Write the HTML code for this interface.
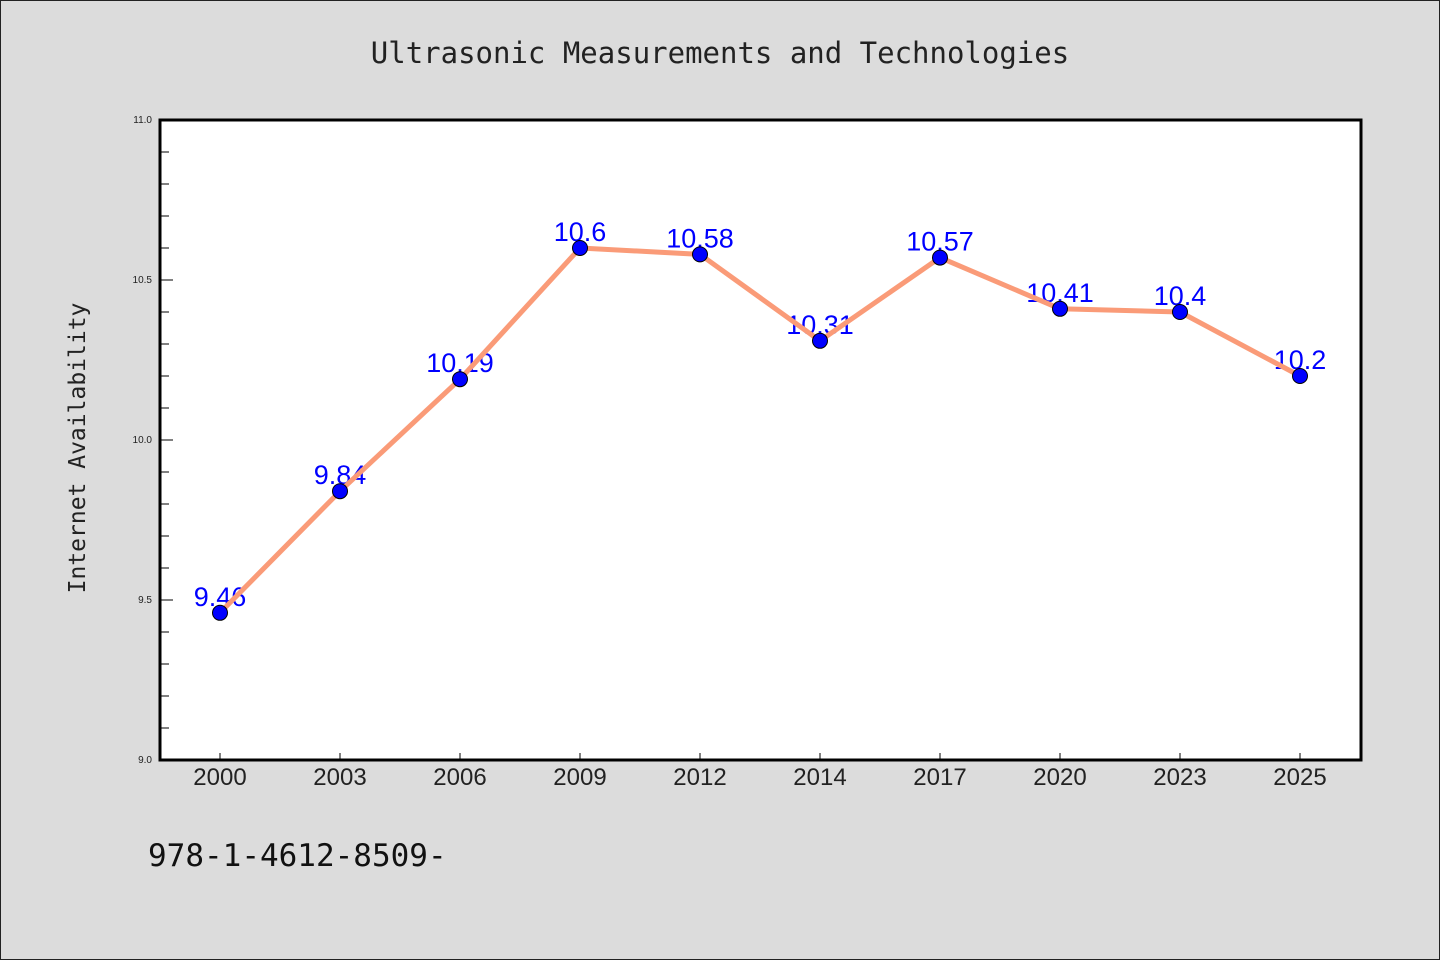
<!DOCTYPE html>
<html><head><meta charset="utf-8"><style>
body{margin:0;background:#dcdcdc;}
svg{display:block;font-family:"Liberation Sans","DejaVu Sans",sans-serif;}
</style></head><body>
<svg id="chart" width="1440" height="960" viewBox="0 0 1440 960">
<rect x="0.5" y="0.5" width="1439" height="959" fill="#dcdcdc" stroke="#222" stroke-width="1"/>
<text x="720" y="63" text-anchor="middle" font-family="DejaVu Sans Mono, monospace" font-size="29" fill="#222">Ultrasonic Measurements and Technologies</text>
<rect x="160" y="120" width="1201" height="640" fill="#fff"/>
<g id="yaxis"></g>
<g id="xaxis"></g>
<g id="series"></g>
<rect x="160" y="120" width="1201" height="640" fill="none" stroke="#000" stroke-width="3"/>
<text transform="translate(85,448) rotate(-90)" text-anchor="middle" font-family="DejaVu Sans Mono, monospace" font-size="23" fill="#222">Internet Availability</text>
<text x="148" y="866" font-family="DejaVu Sans Mono, monospace" font-size="31" fill="#111">978-1-4612-8509-</text>
</svg>
<script>
const categories=["2000","2003","2006","2009","2012","2014","2017","2020","2023","2025"];
const values=[9.46,9.84,10.19,10.6,10.58,10.31,10.57,10.41,10.4,10.2];
const valueLabels=["9.46","9.84","10.19","10.6","10.58","10.31","10.57","10.41","10.4","10.2"];
const yTickLabels=["9.0","9.5","10.0","10.5","11.0"];
const yMin=9.0,yMax=11.0;
const NS="http://www.w3.org/2000/svg";
function y(v){return 760-(v-yMin)/(yMax-yMin)*640;}
function x(i){return 220+i*120;}
function mk(tag,attrs,parent){const e=document.createElementNS(NS,tag);for(const k in attrs)e.setAttribute(k,attrs[k]);parent.appendChild(e);return e;}
const ya=document.getElementById('yaxis'),xa=document.getElementById('xaxis'),sg=document.getElementById('series');
for(let k=0;k<=20;k++){const v=yMin+k*0.1;const major=k%5===0;
 const t=mk('line',{x1:160,x2:major?173:169,y1:y(v),y2:y(v),stroke:'#000','stroke-width':1},ya);
 
 
}
yTickLabels.forEach(s=>{const t=mk('text',{x:152,y:y(parseFloat(s))+3,'text-anchor':'end','font-size':10,fill:'#222'},ya);t.textContent=s;
 
 
});
categories.forEach((c,i)=>{const t=mk('line',{x1:x(i),x2:x(i),y1:760,y2:753,stroke:'#000','stroke-width':1},xa);
 
 
 const l=mk('text',{x:x(i),y:785,'text-anchor':'middle','font-size':24,fill:'#222'},xa);l.textContent=c;
 
 
});
values.forEach((v,i)=>{const l=mk('text',{x:x(i),y:y(v)-7,'text-anchor':'middle','font-size':27,fill:'#0000ff'},sg);l.textContent=valueLabels[i];
 
 
});
const p=mk('polyline',{points:values.map((v,i)=>x(i)+','+y(v)).join(' '),fill:'none',stroke:'#fa9b78','stroke-width':5,'stroke-linejoin':'round'},sg);


values.forEach((v,i)=>{const c=mk('circle',{cx:x(i),cy:y(v),r:7.5,fill:'#0000ff',stroke:'#000','stroke-width':1},sg);
 
 
});
</script>
</body></html>
